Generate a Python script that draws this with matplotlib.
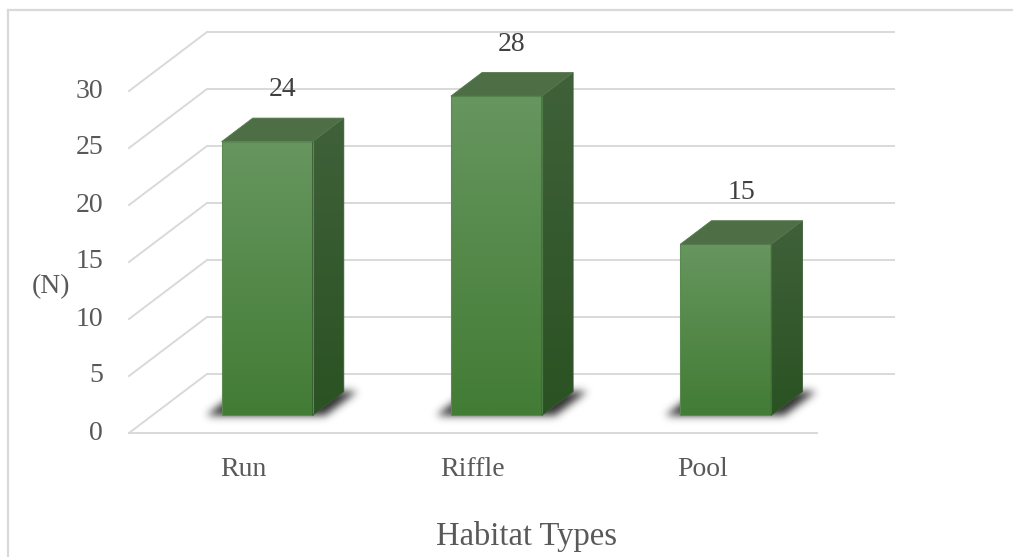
import numpy as np
import matplotlib
matplotlib.use("Agg")
import matplotlib.pyplot as plt
from matplotlib.patches import Polygon
from matplotlib.path import Path
from matplotlib.colors import to_rgb

# ---- data ----
categories = ["Run", "Riffle", "Pool"]
counts = [24, 28, 15]
y_ticks = [0, 5, 10, 15, 20, 25, 30]
x_title = "Habitat Types"
y_title = "(N)"

# ---- look ----
FONT = ["Liberation Serif", "DejaVu Serif"]
TEXT_C = "#595959"
GRID_C = "#d9d9d9"
FRONT_TOP, FRONT_BOT = "#67965f", "#427c35"
SIDE_TOP, SIDE_BOT = "#40613a", "#2a5222"
TOP_C = "#4e6f46"

W, H = 1013, 557
fig = plt.figure(figsize=(W / 100, H / 100), dpi=100)
ax = fig.add_axes([0, 0, 1, 1])
ax.set_axis_off()

# pseudo-3D scale: one category / one count unit in screen pixels
PXC = 229.33          # pixels per category slot
PXU = 11.4            # pixels per count unit
X0_PX, Y0_PX = 129, 433
DX = 78 / PXC         # horizontal shift for full depth (categories)
DV = 59 / PXU         # vertical shift for full depth (count units)
ax.set_xlim(-X0_PX / PXC, (W - X0_PX) / PXC)
ax.set_ylim((Y0_PX - H) / PXU, Y0_PX / PXU)

def P(x, v, d):
    return (x + DX * d, v + DV * d)

n = len(categories)

# back wall grid, left wall diagonals and floor edge
for v in y_ticks:
    (xa, ya), (xb, yb) = P(0, v, 1), P(n, v, 1)
    ax.plot([xa, xb], [ya, yb], color=GRID_C, lw=1.4, zorder=1, solid_capstyle="butt")
    (xa, ya), (xb, yb) = P(0, v, 0), P(0, v, 1)
    ax.plot([xa, xb], [ya, yb], color=GRID_C, lw=1.4, zorder=1)
(xa, ya), (xb, yb) = P(0, 0, 0), P(n, 0, 0)
ax.plot([xa, xb], [ya, yb], color=GRID_C, lw=1.4, zorder=1)

# y tick labels on the front edge
for v in y_ticks:
    ax.text(-26 / PXC, v, str(v), ha="right", va="center", fontsize=20,
            family=FONT, color=TEXT_C)

HALF = 0.397 / 2
D0, D1 = 0.3, 0.7

def gradient_fill(poly_pts, c_top, c_bot, v0, v1, z):
    patch = Polygon(poly_pts, closed=True, facecolor="none", edgecolor="none", zorder=z)
    ax.add_patch(patch)
    t = np.linspace(0, 1, 256)[:, None]
    ct, cb = np.array(to_rgb(c_top)), np.array(to_rgb(c_bot))
    img = (cb[None, None, :] * (1 - t[..., None]) + ct[None, None, :] * t[..., None])
    img = np.repeat(img, 2, axis=1)
    xs = [p[0] for p in poly_pts]
    im = ax.imshow(img, extent=[min(xs), max(xs), v0, v1], origin="lower",
                   aspect="auto", zorder=z, interpolation="bilinear")
    im.set_clip_path(patch)

def gblur(a, s):
    r = int(3 * s)
    k = np.exp(-0.5 * (np.arange(-r, r + 1) / s) ** 2)
    k /= k.sum()
    a = np.apply_along_axis(lambda m: np.convolve(m, k, mode="same"), 0, a)
    a = np.apply_along_axis(lambda m: np.convolve(m, k, mode="same"), 1, a)
    return a

for i, (cat, val) in enumerate(zip(categories, counts)):
    cx = i + 0.5
    xl, xr = cx - HALF, cx + HALF

    # soft floor shadow around the bar footprint
    e = 14 / PXC
    foot = [P(xl - e, 0, D0 - 0.02), P(xr + e, 0, D0 - 0.02),
            P(xr + e, 0, D1), P(xl - e, 0, D1)]
    gx0, gx1 = xl - 0.2, xr + DX * D1 + 0.2
    gy0, gy1 = -2.5, DV * D1 + 2.5
    nx, ny = int((gx1 - gx0) * PXC), int((gy1 - gy0) * PXU)
    gxs = np.linspace(gx0, gx1, nx)
    gys = np.linspace(gy0, gy1, ny)
    GX, GY = np.meshgrid(gxs, gys)
    mask = Path(foot).contains_points(np.c_[GX.ravel(), GY.ravel()]).reshape(ny, nx)
    alpha = np.clip(gblur(mask.astype(float), 4.0) * 0.95, 0, 1)
    sh = np.zeros((ny, nx, 4))
    sh[..., :3] = 0.15
    sh[..., 3] = alpha
    ax.imshow(sh, extent=[gx0, gx1, gy0, gy1], origin="lower", aspect="auto",
              zorder=2, interpolation="bilinear")

    front = [P(xl, 0, D0), P(xr, 0, D0), P(xr, val, D0), P(xl, val, D0)]
    side = [P(xr, 0, D0), P(xr, 0, D1), P(xr, val, D1), P(xr, val, D0)]
    top = [P(xl, val, D0), P(xr, val, D0), P(xr, val, D1), P(xl, val, D1)]

    gradient_fill(front, FRONT_TOP, FRONT_BOT, front[0][1], front[2][1], 3)
    ax.add_patch(Polygon(front, closed=True, fill=False, edgecolor="#5b8a53", lw=0.8, zorder=3.5))
    gradient_fill(side, SIDE_TOP, SIDE_BOT, side[0][1], side[2][1], 3)
    ax.add_patch(Polygon(side, closed=True, fill=False, edgecolor="#3a5a34", lw=0.6, zorder=3.5))
    ax.add_patch(Polygon(top, closed=True, facecolor=TOP_C, edgecolor="#557a4c", lw=0.6, zorder=3.6))

    # value label above the bar
    lx, ly = P(cx, val, 0.5)
    ax.text(lx, ly + 3.5, str(val), ha="center", va="center", fontsize=20,
            family=FONT, color="#404040", zorder=5)

    # category label under the floor edge
    ax.text(cx, (Y0_PX - 470) / PXU, cat, ha="center", va="center", fontsize=20,
            family=FONT, color=TEXT_C)

ax.text(-78 / PXC, (Y0_PX - 287) / PXU, y_title, ha="center", va="center",
        fontsize=20, family=FONT, color=TEXT_C)
fig.text(526 / W, 1 - 537 / H, x_title, ha="center", va="center", fontsize=23.5,
         family=FONT, color=TEXT_C)

# chart area frame (runs off the right and bottom edges)
fig.add_artist(plt.Line2D([8 / W, 1.0], [1 - 10 / H, 1 - 10 / H], color=GRID_C, lw=1.6))
fig.add_artist(plt.Line2D([8 / W, 8 / W], [0.0, 1 - 10 / H], color=GRID_C, lw=1.6))

fig.savefig("out.png", dpi=100, facecolor="white")
